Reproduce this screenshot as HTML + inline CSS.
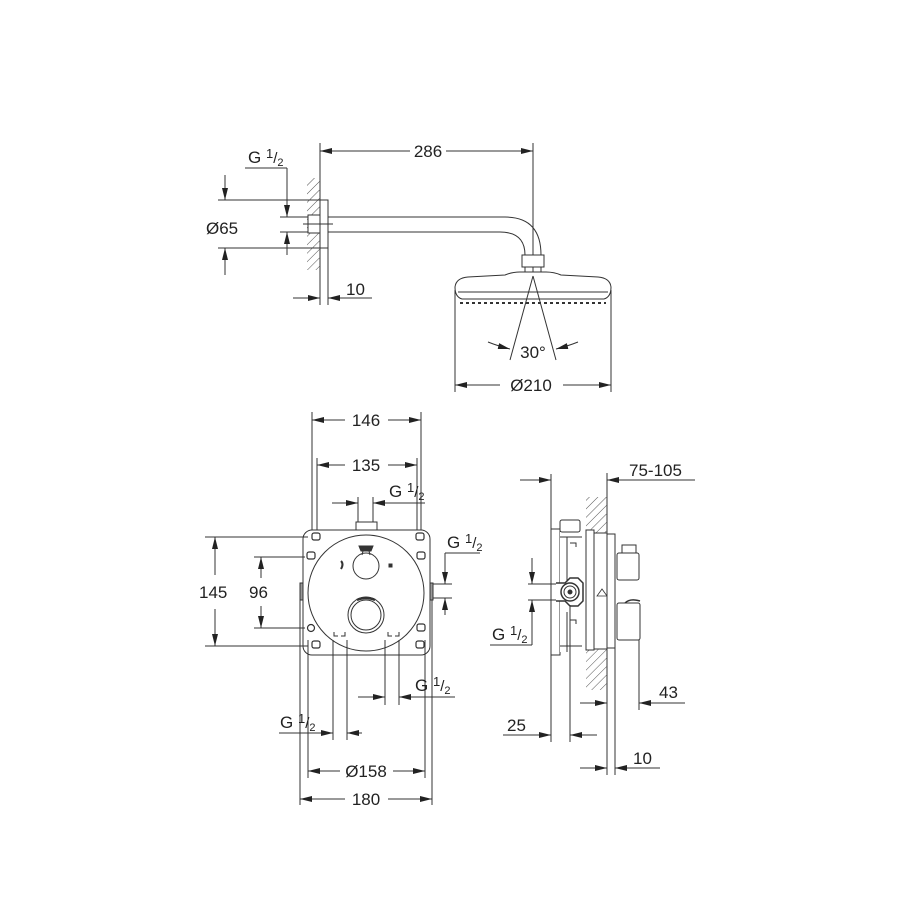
<!DOCTYPE html>
<html><head><meta charset="utf-8"><style>
html,body{margin:0;padding:0;background:#fff}
svg{display:block}
text{font-family:"Liberation Sans",Arial,sans-serif;fill:#222}
</style></head><body>
<svg width="900" height="900" viewBox="0 0 900 900" xmlns="http://www.w3.org/2000/svg">
<defs>
<marker id="a" viewBox="0 0 12 6" refX="12" refY="3" markerWidth="12" markerHeight="6" orient="auto-start-reverse" markerUnits="userSpaceOnUse"><path d="M0,0 L12,3 L0,6 Z" fill="#222"/></marker>
<pattern id="h" width="6" height="6" patternUnits="userSpaceOnUse" patternTransform="rotate(45)"><line x1="0" y1="0" x2="0" y2="6" stroke="#555" stroke-width="1"/></pattern>
</defs>
<g stroke="#333" stroke-width="1" fill="none">
<!-- TOP VIEW -->
<line x1="320" y1="143" x2="320" y2="305"/>
<line x1="533" y1="143" x2="533" y2="278"/>
<line x1="320" y1="151" x2="410" y2="151" marker-start="url(#a)"/>
<line x1="446" y1="151" x2="533" y2="151" marker-end="url(#a)"/>
<rect x="307" y="178" width="13" height="92" fill="url(#h)" stroke="none"/>
<rect x="320" y="200" width="8" height="48" fill="#fff"/>
<rect x="308" y="215" width="12" height="18" fill="#fff"/>
<line x1="303" y1="224" x2="333" y2="224"/>
<path d="M328,217 L505,217 Q541,217 541,255"/>
<path d="M328,232 L500,232 Q525,232 525,255"/>
<rect x="522" y="255" width="22" height="12" fill="#fff"/>
<path d="M525,267 L525,272 M541,267 L541,272"/>
<path d="M520,272 Q512,272 505,275 L468,277 Q456,278 455,287 Q455,297 462,299 L604,299 Q611,297 611,287 Q610,278 598,277 L561,275 Q554,272 546,272 Z" fill="#fff"/>
<line x1="458" y1="292" x2="608" y2="292"/>
<line x1="460" y1="303" x2="606" y2="303" stroke-dasharray="3,3" stroke-width="2"/>
<line x1="533" y1="276" x2="510" y2="360"/>
<line x1="533" y1="276" x2="556" y2="360"/>
<path d="M488,342 Q498,346 510,349" marker-end="url(#a)"/>
<path d="M578,342 Q568,346 556,349" marker-end="url(#a)"/>
<line x1="455" y1="290" x2="455" y2="392"/>
<line x1="611" y1="290" x2="611" y2="392"/>
<line x1="455" y1="385" x2="500" y2="385" marker-start="url(#a)"/>
<line x1="563" y1="385" x2="611" y2="385" marker-end="url(#a)"/>
<line x1="218" y1="200" x2="320" y2="200"/>
<line x1="218" y1="248" x2="320" y2="248"/>
<line x1="225" y1="175" x2="225" y2="200" marker-end="url(#a)"/>
<line x1="225" y1="275" x2="225" y2="248" marker-end="url(#a)"/>
<line x1="245" y1="168" x2="287" y2="168"/>
<line x1="287" y1="168" x2="287" y2="217" marker-end="url(#a)"/>
<line x1="287" y1="255" x2="287" y2="232" marker-end="url(#a)"/>
<line x1="280" y1="217" x2="308" y2="217"/>
<line x1="280" y1="232" x2="308" y2="232"/>
<line x1="328" y1="248" x2="328" y2="305"/>
<line x1="293" y1="298" x2="320" y2="298" marker-end="url(#a)"/>
<line x1="372" y1="298" x2="328" y2="298" marker-end="url(#a)"/>
<!-- FRONT VIEW -->
<line x1="312" y1="412" x2="312" y2="540"/>
<line x1="421" y1="412" x2="421" y2="540"/>
<line x1="317" y1="458" x2="317" y2="540"/>
<line x1="417" y1="458" x2="417" y2="540"/>
<line x1="312" y1="420" x2="345" y2="420" marker-start="url(#a)"/>
<line x1="388" y1="420" x2="421" y2="420" marker-end="url(#a)"/>
<line x1="317" y1="465" x2="345" y2="465" marker-start="url(#a)"/>
<line x1="388" y1="465" x2="417" y2="465" marker-end="url(#a)"/>
<line x1="332" y1="503" x2="358" y2="503" marker-end="url(#a)"/>
<line x1="425" y1="503" x2="373" y2="503" marker-end="url(#a)"/>
<line x1="358" y1="497" x2="358" y2="522"/>
<line x1="373" y1="497" x2="373" y2="522"/>
<rect x="356" y="522" width="21" height="8" fill="#fff"/>
<rect x="303" y="530" width="127" height="125" rx="9" fill="#fff"/>
<circle cx="366" cy="593" r="58" fill="#fff"/>
<circle cx="366" cy="566" r="13"/>
<path d="M359,546 L373,546 L371,551 L361,551 Z" fill="#333"/>
<line x1="363" y1="551" x2="362" y2="555"/><line x1="369" y1="551" x2="370" y2="555"/>
<path d="M341,561 q3,3 0,8" stroke-width="2"/>
<rect x="389" y="564" width="3" height="3" fill="#333"/>
<circle cx="366" cy="615" r="18"/>
<circle cx="366" cy="615" r="15"/>
<path d="M357,600 Q366,596 375,600" stroke-width="2.5"/>
<g stroke-width="1.2">
<rect x="312" y="533" width="8" height="7" rx="2"/><rect x="416" y="533" width="8" height="7" rx="2"/>
<rect x="307" y="552" width="8" height="7" rx="2"/><rect x="417" y="552" width="8" height="7" rx="2"/>
<circle cx="311" cy="628" r="3.5"/><rect x="417" y="624" width="8" height="7" rx="2"/>
<rect x="312" y="641" width="8" height="7" rx="2"/><rect x="416" y="641" width="8" height="7" rx="2"/>
</g>
<rect x="300" y="583" width="3" height="17" fill="#999"/>
<rect x="430" y="583" width="3" height="17" fill="#999"/>
<line x1="205" y1="537" x2="308" y2="537"/>
<line x1="205" y1="646" x2="308" y2="646"/>
<line x1="215" y1="537" x2="215" y2="575" marker-start="url(#a)"/>
<line x1="215" y1="609" x2="215" y2="646" marker-end="url(#a)"/>
<line x1="254" y1="557" x2="305" y2="557"/>
<line x1="254" y1="628" x2="305" y2="628"/>
<line x1="261" y1="557" x2="261" y2="578" marker-start="url(#a)"/>
<line x1="261" y1="606" x2="261" y2="628" marker-end="url(#a)"/>
<line x1="433" y1="584" x2="452" y2="584"/>
<line x1="433" y1="598" x2="452" y2="598"/>
<line x1="445" y1="553" x2="480" y2="553"/>
<line x1="445" y1="553" x2="445" y2="584" marker-end="url(#a)"/>
<line x1="445" y1="615" x2="445" y2="598" marker-end="url(#a)"/>
<path d="M334,632 v4 h4 M345,632 v4 h-4 M388,632 v4 h4 M399,632 v4 h-4" stroke-width="1"/>
<line x1="333" y1="640" x2="333" y2="740"/>
<line x1="347" y1="640" x2="347" y2="740"/>
<line x1="385" y1="640" x2="385" y2="705"/>
<line x1="399" y1="640" x2="399" y2="705"/>
<line x1="358" y1="697" x2="385" y2="697" marker-end="url(#a)"/>
<line x1="455" y1="697" x2="399" y2="697" marker-end="url(#a)"/>
<line x1="279" y1="733" x2="333" y2="733" marker-end="url(#a)"/>
<line x1="362" y1="733" x2="347" y2="733" marker-end="url(#a)"/>
<line x1="300" y1="600" x2="300" y2="805"/>
<line x1="308" y1="640" x2="308" y2="778"/>
<line x1="425" y1="640" x2="425" y2="778"/>
<line x1="432" y1="600" x2="432" y2="805"/>
<line x1="308" y1="771" x2="340" y2="771" marker-start="url(#a)"/>
<line x1="393" y1="771" x2="425" y2="771" marker-end="url(#a)"/>
<line x1="300" y1="799" x2="345" y2="799" marker-start="url(#a)"/>
<line x1="388" y1="799" x2="432" y2="799" marker-end="url(#a)"/>
<!-- SIDE VIEW -->
<line x1="551" y1="474" x2="551" y2="742"/>
<line x1="607" y1="473" x2="607" y2="775"/>
<line x1="520" y1="480" x2="551" y2="480" marker-end="url(#a)"/>
<line x1="695" y1="480" x2="607" y2="480" marker-end="url(#a)"/>
<rect x="586" y="497" width="21" height="193" fill="url(#h)" stroke="none"/>
<rect x="551" y="529" width="9" height="126" fill="#fff"/>
<rect x="560" y="532" width="26" height="120" fill="#fff" stroke="none"/>
<path d="M560,537 h22 M560,646 h22 M567,537 v60 M567,612 v40"/>
<path d="M570,543 h6 v4 M570,620 h6 v4"/>
<rect x="560" y="520" width="20" height="12" rx="2" fill="#fff"/>
<rect x="586" y="530" width="8" height="120" fill="#fff"/>
<rect x="594" y="533" width="13" height="116" fill="#fff"/>
<path d="M597,596 l5,-7 l5,7 z" stroke-width="0.8"/>
<rect x="607" y="534" width="8" height="114" fill="#fff"/>
<path d="M556,583 h9 l5,-5 l8,0 l5,5 v18 l-5,5 h-8 l-5,-5 h-9" fill="#fff" stroke-width="1.5"/>
<circle cx="570" cy="592" r="9" stroke-width="1.5"/>
<circle cx="570" cy="592" r="6"/>
<circle cx="570" cy="592" r="2" fill="#333"/>
<rect x="622" y="545" width="14" height="8" fill="#fff"/>
<rect x="617" y="553" width="22" height="27" rx="2" fill="#fff"/>
<rect x="617" y="603" width="23" height="37" rx="2" fill="#fff"/>
<path d="M625,603 Q630,598 640,601" stroke-width="1.5"/>
<line x1="528" y1="584" x2="556" y2="584"/>
<line x1="528" y1="600" x2="556" y2="600"/>
<line x1="532" y1="558" x2="532" y2="584" marker-end="url(#a)"/>
<line x1="532" y1="645" x2="532" y2="600" marker-end="url(#a)"/>
<line x1="490" y1="645" x2="532" y2="645"/>
<line x1="639" y1="640" x2="639" y2="710"/>
<line x1="580" y1="703" x2="607" y2="703" marker-end="url(#a)"/>
<line x1="685" y1="703" x2="639" y2="703" marker-end="url(#a)"/>
<line x1="570" y1="605" x2="570" y2="742"/>
<line x1="503" y1="735" x2="551" y2="735" marker-end="url(#a)"/>
<line x1="597" y1="735" x2="570" y2="735" marker-end="url(#a)"/>
<line x1="615" y1="648" x2="615" y2="775"/>
<line x1="580" y1="768" x2="607" y2="768" marker-end="url(#a)"/>
<line x1="660" y1="768" x2="615" y2="768" marker-end="url(#a)"/>
</g>
<g font-size="17">
<text x="428" y="157" text-anchor="middle">286</text>
<text x="206" y="234">Ø65</text>
<text x="248" y="163">G <tspan font-size="13" dy="-5">1</tspan><tspan font-size="15" dy="5">/</tspan><tspan font-size="11" dy="3">2</tspan></text>
<text x="346" y="295">10</text>
<text x="533" y="358" text-anchor="middle">30°</text>
<text x="531" y="391" text-anchor="middle">Ø210</text>
<text x="366" y="426" text-anchor="middle">146</text>
<text x="366" y="471" text-anchor="middle">135</text>
<text x="389" y="497">G <tspan font-size="13" dy="-5">1</tspan><tspan font-size="15" dy="5">/</tspan><tspan font-size="11" dy="3">2</tspan></text>
<text x="447" y="548">G <tspan font-size="13" dy="-5">1</tspan><tspan font-size="15" dy="5">/</tspan><tspan font-size="11" dy="3">2</tspan></text>
<text x="199" y="598">145</text>
<text x="249" y="598">96</text>
<text x="415" y="691">G <tspan font-size="13" dy="-5">1</tspan><tspan font-size="15" dy="5">/</tspan><tspan font-size="11" dy="3">2</tspan></text>
<text x="280" y="728">G <tspan font-size="13" dy="-5">1</tspan><tspan font-size="15" dy="5">/</tspan><tspan font-size="11" dy="3">2</tspan></text>
<text x="366" y="777" text-anchor="middle">Ø158</text>
<text x="366" y="805" text-anchor="middle">180</text>
<text x="629" y="476">75-105</text>
<text x="492" y="640">G <tspan font-size="13" dy="-5">1</tspan><tspan font-size="15" dy="5">/</tspan><tspan font-size="11" dy="3">2</tspan></text>
<text x="659" y="698">43</text>
<text x="507" y="731">25</text>
<text x="633" y="764">10</text>
</g>
</svg>
</body></html>
